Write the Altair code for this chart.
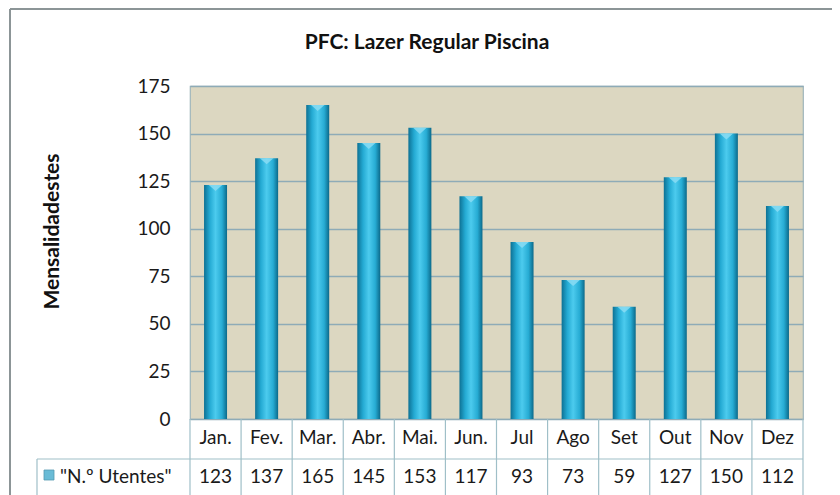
import altair as alt
import pandas as pd

months = ["Jan.", "Fev.", "Mar.", "Abr.", "Mai.", "Jun.", "Jul", "Ago", "Set", "Out", "Nov", "Dez"]
utentes = [123, 137, 165, 145, 153, 117, 93, 73, 59, 127, 150, 112]
y_ticks = [0, 25, 50, 75, 100, 125, 150, 175]
title_text = "PFC: Lazer Regular Piscina"
y_title = "Mensalidadestes"
series_name = '"N.º Utentes"'

W, H = 613, 333
ROW1_Y = 352      # month labels (px below plot top)
ROW_SPLIT = 373   # line between rows
ROW2_Y = 391      # values row
TABLE_BOTTOM = 420
LEGEND_X = -153
FONT = "Lato"
BORDER = "#9fbfc8"

df = pd.DataFrame({"month": months, "value": utentes})
one = pd.DataFrame({"k": [0]})

xenc = alt.X("month:N", sort=months, axis=None,
             scale=alt.Scale(paddingInner=0, paddingOuter=0))

grad = alt.LinearGradient(
    gradient="linear", x1=0, x2=1, y1=0, y2=0,
    stops=[alt.GradientStop(color="#0d7194", offset=0),
           alt.GradientStop(color="#24aad3", offset=0.25),
           alt.GradientStop(color="#4ccbee", offset=0.5),
           alt.GradientStop(color="#27acd4", offset=0.78),
           alt.GradientStop(color="#0b698a", offset=1)])

bars = alt.Chart(df).mark_bar(color=grad, size=23).encode(
    x=xenc,
    y=alt.Y("value:Q", scale=alt.Scale(domain=[0, 175], nice=False),
            axis=alt.Axis(values=y_ticks, title=y_title, ticks=False, domain=False,
                          labelFont=FONT, labelFontSize=19, labelColor="#1a1a1a",
                          labelPadding=20, grid=True, gridColor="#8eabb7",
                          gridWidth=1.3,
                          titleFont=FONT, titleFontSize=21, titleFontWeight="bold",
                          titleColor="#111111", titleAngle=-90, titleX=-138,
                          titleY=145, titleAlign="center",
                          titleBaseline="middle")),
)

caps = alt.Chart(df).mark_point(
    shape="M-1,-0.45L1,-0.45L0,0.45Z", size=180, filled=True,
    color="#8adcf3", opacity=0.85, yOffset=3).encode(
    x=xenc, y="value:Q")

month_text = alt.Chart(df).mark_text(font=FONT, fontSize=19, color="#1a1a1a",
                                     baseline="middle").encode(
    x=xenc, y=alt.value(ROW1_Y), text="month:N")

value_text = alt.Chart(df).mark_text(font=FONT, fontSize=19, color="#1a1a1a",
                                     baseline="middle").encode(
    x=xenc, y=alt.value(ROW2_Y), text="value:Q")

vlines = alt.Chart(df).mark_rule(color=BORDER, strokeWidth=1.2).encode(
    x=alt.X("month:N", sort=months, axis=None, bandPosition=0,
            scale=alt.Scale(paddingInner=0, paddingOuter=0)),
    y=alt.value(H), y2=alt.value(TABLE_BOTTOM))

right_line = alt.Chart(one).mark_rule(color=BORDER, strokeWidth=1.2).encode(
    x=alt.value(W), y=alt.value(H), y2=alt.value(TABLE_BOTTOM))

legend_left = alt.Chart(one).mark_rule(color=BORDER, strokeWidth=1.2).encode(
    x=alt.value(LEGEND_X), y=alt.value(ROW_SPLIT), y2=alt.value(TABLE_BOTTOM))

row_split = alt.Chart(one).mark_rule(color=BORDER, strokeWidth=1.2).encode(
    x=alt.value(LEGEND_X), x2=alt.value(W), y=alt.value(ROW_SPLIT))

legend_icon = alt.Chart(one).mark_square(size=100, filled=True, color="#2a9fc6",
                                         stroke="#0d6f90", strokeWidth=0.8).encode(
    x=alt.value(-141), y=alt.value(ROW2_Y - 2))

legend_text = alt.Chart(pd.DataFrame({"t": [series_name]})).mark_text(
    font=FONT, fontSize=19, color="#1a1a1a", align="left", baseline="middle").encode(
    x=alt.value(-130), y=alt.value(ROW2_Y), text="t:N")

title_mark = alt.Chart(pd.DataFrame({"t": [title_text]})).mark_text(
    font=FONT, fontSize=21, fontWeight="bold", color="#111111",
    align="center", baseline="middle").encode(
    x=alt.value(237), y=alt.value(-43), text="t:N")

frame_top = alt.Chart(one).mark_rule(color="#8c9597", strokeWidth=2).encode(
    x=alt.value(-180), x2=alt.value(W + 40), y=alt.value(-77))
frame_left = alt.Chart(one).mark_rule(color="#8c9597", strokeWidth=2).encode(
    x=alt.value(-180), y=alt.value(-77), y2=alt.value(TABLE_BOTTOM))

chart = alt.layer(
    bars, caps, vlines, right_line, legend_left, row_split,
    month_text, value_text, legend_icon, legend_text, title_mark,
    frame_top, frame_left
).properties(
    width=W, height=H,
    autosize=alt.AutoSizeParams(type="none"),
    padding={"left": 182, "top": 78, "right": 29, "bottom": 76},
).configure(
    background="white"
).configure_view(
    fill="#dcd7c1", stroke="#9fb5bb", strokeWidth=1.2
)

chart.save("out.html", embed_options={"renderer": "svg", "actions": False})
